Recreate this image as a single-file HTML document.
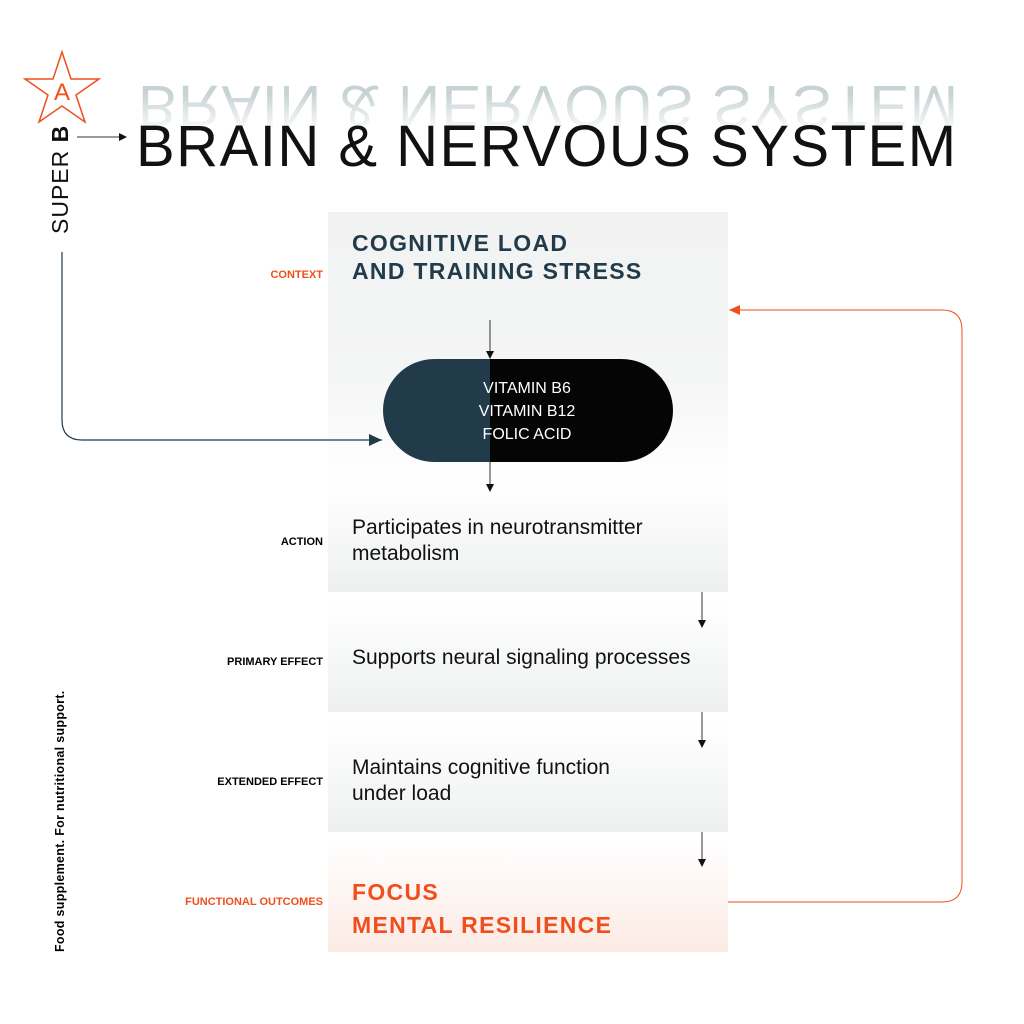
<!DOCTYPE html>
<html><head><meta charset="utf-8"><style>
body{margin:0;width:1024px;height:1024px;background:#fff;position:relative;overflow:hidden;font-family:"Liberation Sans",sans-serif}
.a{position:absolute}
.box{position:absolute;left:328px;width:400px;background:linear-gradient(#fff,#eef0f0)}
.lab{position:absolute;right:701px;font-size:11px;font-weight:bold;text-align:right;white-space:nowrap}
.txt{position:absolute;left:352px;font-family:"Liberation Sans Narrow","Liberation Sans",sans-serif;font-size:21px;color:#111;line-height:26px}
.hd{position:absolute;left:352px;font-weight:900;font-size:23px;line-height:28px;letter-spacing:1.3px}
</style></head><body>
<div class="box" style="top:212px;height:270px;background:linear-gradient(#f1f2f2 0%,#f4f5f5 60%,#fff 100%)"></div>
<div class="box" style="top:482px;height:110px"></div>
<div class="box" style="top:600px;height:112px"></div>
<div class="box" style="top:720px;height:112px"></div>
<div class="box" style="top:840px;height:112px;background:linear-gradient(#fff,#fbeae4)"></div>

<div class="a" style="left:138px;top:76px;font-size:58px;letter-spacing:1.5px;color:#b9c8c9;transform:scaleY(-1);opacity:.8;line-height:58px;white-space:nowrap;-webkit-mask-image:linear-gradient(to top,#000 30%,transparent)">BRAIN &amp; NERVOUS SYSTEM</div>
<div class="a" style="left:136px;top:118px;font-size:58px;letter-spacing:1.5px;color:#111;line-height:58px;white-space:nowrap">BRAIN &amp; NERVOUS SYSTEM</div>
<div class="a" style="left:47px;top:234px;transform:rotate(-90deg);transform-origin:left top;font-size:23px;color:#111;white-space:nowrap;letter-spacing:1px">SUPER <b>B</b></div>
<div class="a" style="left:53px;top:952px;transform:rotate(-90deg);transform-origin:left top;font-size:12.5px;font-weight:900;color:#000;white-space:nowrap;letter-spacing:0.3px">Food supplement. For nutritional support.</div>

<div class="hd" style="top:229px;color:#213b4b">COGNITIVE LOAD<br>AND TRAINING STRESS</div>
<div class="lab" style="top:269px;color:#f04e1c">CONTEXT</div>
<div class="lab" style="top:536px">ACTION</div>
<div class="lab" style="top:656px">PRIMARY EFFECT</div>
<div class="lab" style="top:776px">EXTENDED EFFECT</div>
<div class="lab" style="top:896px;color:#f04e1c">FUNCTIONAL OUTCOMES</div>
<div class="txt" style="top:515px">Participates in neurotransmitter<br>metabolism</div>
<div class="txt" style="top:645px">Supports neural signaling processes</div>
<div class="txt" style="top:755px">Maintains cognitive function<br>under load</div>
<div class="hd" style="top:876px;color:#f04e1c;font-size:23px;line-height:33px">FOCUS<br>MENTAL RESILIENCE</div>

<svg class="a" style="left:0;top:0" width="1024" height="1024">
<defs><marker id="m" markerWidth="8" markerHeight="8" refX="7" refY="4" orient="auto" markerUnits="userSpaceOnUse"><path d="M0,0L8,4L0,8z" fill="#111"/></marker>
<marker id="mb" markerWidth="14" markerHeight="14" refX="13" refY="6" orient="auto" markerUnits="userSpaceOnUse"><path d="M0,0L13,6L0,12z" fill="#213b4b"/></marker>
<marker id="mo" markerWidth="12" markerHeight="12" refX="11" refY="5" orient="auto" markerUnits="userSpaceOnUse"><path d="M0,0L11,5L0,10z" fill="#f04e1c"/></marker></defs>
<path d="M62,52L71,79L99,79L76,95L85,122L62,106L39,122L48,95L25,79L53,79z" fill="none" stroke="#f04e1c" stroke-width="1.5"/>
<text x="62" y="100" text-anchor="middle" font-size="24" fill="#f04e1c" font-family="Liberation Sans">A</text>
<line x1="77" y1="137" x2="126" y2="137" stroke="#333" marker-end="url(#m)"/>
<path d="M62,252V420Q62,440 82,440H382" fill="none" stroke="#213b4b" stroke-width="1.2" marker-end="url(#mb)"/>
<path d="M728,902H942Q962,902 962,882V330Q962,310 942,310H729" fill="none" stroke="#f04e1c" stroke-width="1" marker-end="url(#mo)"/>
<clipPath id="cl"><rect x="383" y="359" width="290" height="103" rx="51.5"/></clipPath>
<g clip-path="url(#cl)"><rect x="383" y="359" width="107" height="103" fill="#213b4b"/><rect x="490" y="359" width="183" height="103" fill="#050505"/></g>
<text font-family="Liberation Sans Narrow,Liberation Sans" font-size="16" fill="#fff" text-anchor="middle"><tspan x="527" y="393">VITAMIN B6</tspan><tspan x="527" y="416">VITAMIN B12</tspan><tspan x="527" y="439">FOLIC ACID</tspan></text>
<line x1="490" y1="320" x2="490" y2="358" stroke="#333" marker-end="url(#m)"/>
<line x1="490" y1="462" x2="490" y2="491" stroke="#333" marker-end="url(#m)"/>
<line x1="702" y1="592" x2="702" y2="627" stroke="#333" marker-end="url(#m)"/>
<line x1="702" y1="712" x2="702" y2="747" stroke="#333" marker-end="url(#m)"/>
<line x1="702" y1="832" x2="702" y2="866" stroke="#333" marker-end="url(#m)"/>
</svg>
</body></html>
